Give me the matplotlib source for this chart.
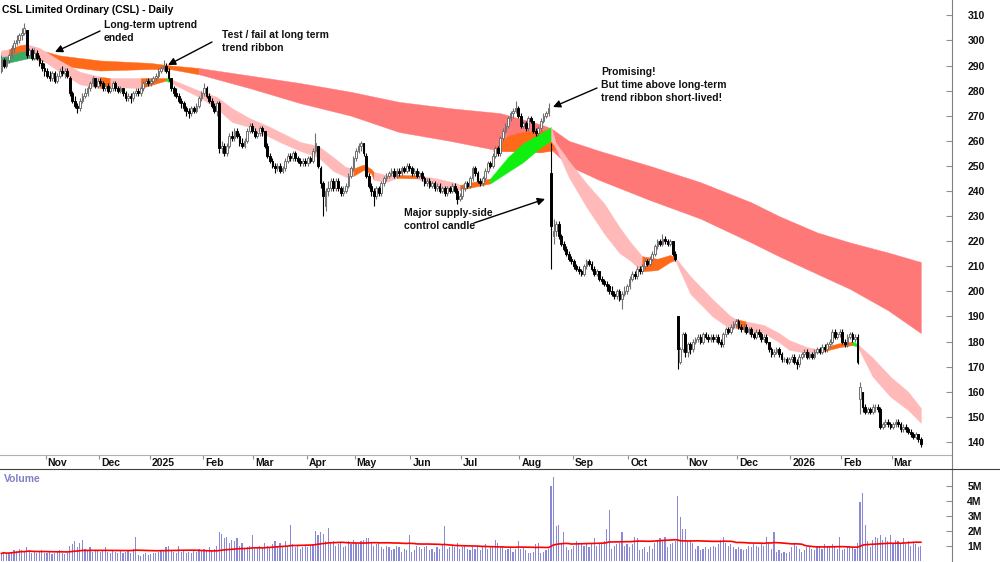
import numpy as np
import pandas as pd
import matplotlib
matplotlib.use("Agg")
import matplotlib.pyplot as plt
from matplotlib.lines import Line2D
from matplotlib.transforms import ScaledTranslation

plt.rcParams['font.family'] = ['Liberation Sans', 'DejaVu Sans']
plt.rcParams['font.weight'] = 'bold'

# ASX trading days shown on the chart
holidays = ["2024-12-25", "2024-12-26", "2025-01-01", "2025-01-27", "2025-04-18",
            "2025-04-21", "2025-04-25", "2025-06-09", "2025-12-25", "2025-12-26",
            "2026-01-01", "2026-01-26"]
first_day = "2024-10-08"
last_day = "2026-03-17"

# daily candles (open, high, low, close), one list per month
oct24 = [(288, 294, 287, 292), (292, 293, 289, 290), (290, 293, 289, 292), (292, 295, 291, 294),
         (294, 298, 293, 297), (297, 300, 295, 299), (299, 302, 298, 300), (300, 303, 299, 302),
         (302, 305, 300, 303), (303, 307, 302, 305), (304, 304, 293, 294), (294, 297, 293, 296),
         (296, 297, 292, 293), (293, 297, 292, 295), (295, 296, 292, 293), (293, 294, 290, 291),
         (291, 292, 288, 289), (289, 291, 286, 288)]
nov24 = [(288, 289, 285, 286), (286, 288, 284, 285), (285, 288, 284, 287), (287, 288, 283, 284),
         (284, 287, 283, 286), (286, 289, 285, 288), (288, 290, 286, 287), (287, 289, 285, 288),
         (288, 289, 285, 286), (285, 286, 278, 279), (279, 280, 275, 276), (276, 278, 273, 274),
         (274, 275, 271, 273), (273, 277, 272, 276), (276, 279, 275, 278), (278, 281, 277, 279),
         (279, 282, 278, 281), (281, 284, 280, 283), (283, 286, 282, 285), (285, 285, 281, 282),
         (282, 285, 281, 284)]
dec24 = [(284, 285, 282, 283), (283, 284, 280, 281), (281, 283, 280, 282), (282, 283, 279, 280),
         (280, 282, 279, 281), (281, 284, 280, 283), (283, 284, 280, 281), (281, 282, 279, 280),
         (280, 282, 279, 281), (281, 281, 278, 279), (279, 280, 276, 277), (277, 279, 276, 278),
         (278, 279, 275, 277), (277, 280, 276, 279), (279, 281, 278, 280), (280, 281, 278, 279),
         (279, 282, 278, 281), (281, 284, 280, 283), (283, 285, 282, 284), (284, 285, 282, 283)]
jan25 = [(283, 285, 282, 284), (284, 286, 283, 285), (285, 287, 284, 286), (286, 289, 285, 288),
         (288, 290, 287, 289), (289, 292, 288, 290), (290, 291, 287, 288), (288, 289, 284, 285),
         (285, 285, 280, 281), (281, 282, 278, 279), (279, 281, 277, 278), (278, 279, 275, 276),
         (276, 277, 273, 275), (275, 276, 272, 273), (273, 274, 270, 272), (272, 273, 269, 271),
         (271, 274, 270, 273), (273, 274, 271, 272), (272, 275, 271, 274), (274, 278, 273, 277),
         (277, 280, 276, 279)]
feb25 = [(279, 283, 278, 281), (281, 282, 277, 278), (278, 279, 275, 276), (276, 277, 273, 274),
         (274, 275, 271, 272), (272, 276, 270, 275), (275, 276, 255, 257), (257, 260, 255, 258),
         (258, 259, 254, 255), (255, 259, 254, 258), (258, 263, 257, 262), (262, 264, 260, 261),
         (261, 265, 260, 264), (264, 265, 261, 262), (262, 263, 258, 259), (259, 261, 257, 258),
         (258, 261, 257, 260), (260, 265, 259, 264), (264, 267, 263, 266), (266, 267, 263, 264)]
mar25 = [(264, 265, 261, 262), (262, 264, 261, 263), (263, 266, 262, 265), (265, 266, 262, 264),
         (264, 264, 257, 258), (258, 259, 253, 254), (254, 255, 251, 252), (252, 253, 249, 250),
         (250, 251, 247, 249), (249, 251, 248, 250), (250, 251, 247, 248), (248, 250, 247, 249),
         (249, 253, 248, 252), (252, 255, 251, 254), (254, 255, 252, 253), (253, 256, 252, 255),
         (255, 256, 252, 253), (253, 254, 251, 252), (252, 253, 250, 251), (251, 253, 250, 252),
         (252, 253, 250, 251)]
apr25 = [(251, 254, 250, 253), (253, 254, 251, 252), (252, 257, 251, 256), (256, 263, 255, 259),
         (258, 258, 249, 250), (249, 250, 241, 243), (243, 244, 230, 238), (234, 241, 232, 240),
         (240, 244, 238, 241), (241, 245, 240, 244), (244, 245, 240, 241), (241, 245, 240, 244),
         (244, 245, 240, 241), (241, 242, 238, 239), (239, 242, 238, 240), (240, 243, 239, 242),
         (242, 247, 241, 246), (246, 250, 245, 249), (249, 254, 248, 253)]
may25 = [(253, 257, 252, 256), (256, 259, 255, 258), (258, 260, 256, 259), (259, 259, 254, 255),
         (254, 255, 245, 246), (246, 247, 241, 242), (242, 243, 238, 240), (240, 241, 234, 238),
         (238, 242, 237, 241), (241, 242, 238, 239), (239, 244, 238, 243), (243, 246, 242, 245),
         (245, 247, 244, 246), (246, 248, 245, 247), (247, 249, 246, 248), (248, 249, 245, 246),
         (246, 249, 245, 248), (248, 249, 246, 247), (247, 250, 246, 249), (249, 250, 247, 248),
         (248, 251, 247, 250), (250, 251, 248, 249)]
jun25 = [(249, 250, 246, 247), (247, 249, 246, 248), (248, 249, 245, 246), (246, 248, 245, 247),
         (247, 248, 244, 245), (245, 246, 242, 243), (243, 245, 242, 244), (244, 245, 241, 242),
         (242, 244, 241, 243), (243, 244, 240, 241), (241, 243, 240, 242), (242, 243, 239, 240),
         (240, 242, 239, 241), (241, 242, 238, 239), (239, 242, 238, 241), (241, 242, 239, 240),
         (240, 243, 239, 242), (242, 243, 239, 240), (240, 241, 235, 237), (237, 239, 236, 238)]
jul25 = [(238, 242, 237, 241), (241, 244, 240, 243), (243, 244, 241, 242), (242, 246, 241, 245),
         (245, 250, 244, 249), (249, 250, 246, 247), (247, 248, 243, 244), (244, 245, 242, 243),
         (243, 246, 242, 245), (245, 249, 244, 248), (248, 252, 247, 251), (251, 252, 249, 250),
         (250, 255, 249, 254), (254, 258, 253, 257), (257, 258, 254, 255), (255, 262, 254, 261),
         (261, 265, 260, 264), (264, 267, 263, 266), (266, 270, 265, 269), (269, 272, 268, 271),
         (271, 273, 269, 272), (272, 276, 271, 273), (273, 274, 269, 270)]
aug25 = [(270, 271, 265, 266), (266, 268, 265, 267), (267, 268, 264, 265), (265, 270, 264, 269),
         (269, 270, 267, 268), (268, 268, 263, 264), (264, 265, 262, 263), (263, 266, 262, 265),
         (265, 269, 264, 268), (268, 271, 267, 270), (270, 272, 269, 271), (271, 275, 270, 273),
         (247, 259, 209, 226), (222, 229, 219, 224), (224, 228, 222, 227), (227, 228, 221, 222),
         (222, 223, 218, 219), (219, 220, 216, 217), (217, 218, 214, 215), (215, 216, 212, 213),
         (213, 214, 211, 212)]
sep25 = [(212, 213, 209, 210), (210, 211, 208, 209), (209, 210, 207, 208), (208, 209, 206, 207),
         (207, 211, 206, 210), (210, 213, 209, 212), (212, 213, 210, 211), (211, 212, 208, 209),
         (209, 210, 206, 207), (207, 209, 206, 208), (208, 208, 204, 205), (205, 206, 203, 204),
         (204, 205, 202, 203), (203, 204, 200, 202), (202, 203, 199, 200), (200, 202, 198, 199),
         (199, 200, 197, 198), (198, 201, 197, 200), (200, 201, 196, 197), (197, 200, 193, 199),
         (199, 202, 198, 200), (200, 203, 199, 202)]
oct25 = [(202, 206, 201, 205), (205, 208, 204, 207), (207, 208, 205, 206), (206, 210, 205, 209),
         (209, 210, 207, 208), (208, 211, 207, 210), (210, 213, 209, 212), (212, 213, 210, 211),
         (211, 214, 210, 213), (213, 216, 212, 215), (215, 219, 214, 218), (218, 221, 217, 220),
         (220, 221, 218, 219), (219, 223, 218, 221), (221, 222, 219, 220), (220, 221, 218, 219),
         (219, 221, 218, 220), (220, 220, 214, 215), (215, 216, 212, 213), (190, 190, 169, 177),
         (172, 178, 171, 177), (177, 184, 176, 183), (183, 184, 174, 176)]
nov25 = [(176, 180, 174, 179), (179, 180, 175, 177), (177, 181, 176, 180), (180, 182, 179, 181),
         (181, 183, 180, 182), (182, 183, 179, 180), (180, 184, 179, 183), (183, 184, 181, 182),
         (182, 183, 180, 181), (181, 183, 180, 182), (182, 183, 180, 181), (181, 183, 180, 182),
         (182, 183, 179, 180), (180, 181, 178, 179), (179, 184, 178, 183), (183, 186, 182, 185),
         (185, 186, 183, 184), (184, 187, 183, 186), (186, 188, 185, 187), (187, 189, 186, 188)]
dec25 = [(188, 189, 185, 186), (186, 187, 184, 185), (185, 187, 184, 186), (186, 187, 183, 184),
         (184, 186, 183, 185), (185, 186, 182, 183), (183, 184, 181, 182), (182, 185, 181, 184),
         (184, 185, 182, 183), (183, 184, 180, 181), (181, 183, 180, 182), (182, 183, 179, 180),
         (180, 180, 176, 177), (177, 178, 174, 175), (175, 177, 174, 176), (176, 178, 175, 177),
         (177, 178, 174, 175), (175, 176, 172, 173), (173, 174, 172, 173), (173, 174, 171, 172),
         (172, 174, 171, 173)]
jan26 = [(173, 175, 172, 174), (174, 175, 171, 172), (172, 173, 169, 171), (171, 175, 170, 174),
         (174, 176, 173, 175), (175, 177, 174, 176), (176, 177, 173, 174), (174, 176, 173, 175),
         (175, 176, 173, 174), (174, 177, 173, 176), (176, 178, 175, 177), (177, 178, 175, 176),
         (176, 179, 175, 178), (178, 179, 176, 177), (177, 180, 176, 179), (179, 181, 178, 180),
         (180, 185, 179, 184), (184, 185, 181, 182), (182, 184, 181, 183), (183, 185, 182, 184)]
feb26 = [(184, 185, 179, 180), (180, 181, 178, 179), (179, 183, 178, 182), (182, 184, 181, 183),
         (183, 184, 180, 181), (181, 183, 180, 182), (182, 183, 171, 172), (157, 164, 151, 162),
         (160, 160, 152, 154), (154, 155, 151, 152), (152, 154, 151, 153), (153, 154, 151, 152),
         (152, 155, 151, 154), (154, 155, 152, 154), (154, 155, 152, 153), (153, 154, 145, 146),
         (146, 148, 145, 147), (147, 149, 146, 148), (148, 149, 146, 147), (147, 148, 145, 146)]
mar26 = [(146, 148, 145, 147), (147, 149, 146, 148), (148, 149, 146, 147), (147, 148, 144, 145),
         (145, 147, 144, 146), (146, 147, 144, 145), (145, 146, 143, 144), (144, 145, 142, 143),
         (143, 144, 141, 142), (142, 144, 141, 143), (143, 143, 140, 141), (141, 142, 138, 139)]

# daily volume, millions of shares
vol_oct24 = [0.5, 0.6, 0.45, 0.55, 0.6, 0.7, 0.65, 0.8, 0.75, 0.6, 0.9, 0.7, 0.55, 0.6, 0.5, 0.65, 0.7, 0.5]
vol_nov24 = [0.55, 0.6, 0.45, 0.5, 0.6, 0.7, 0.5, 0.45, 0.55, 1.0, 1.1, 1.3, 0.9, 1.2, 1.4, 0.8, 0.7, 0.9,
             0.6, 0.75, 0.7]
vol_dec24 = [0.6, 0.7, 0.9, 0.6, 0.55, 0.75, 0.6, 0.55, 0.65, 0.5, 0.6, 0.7, 0.55, 0.8, 1.6, 0.4, 0.35,
             0.45, 0.5, 0.4]
vol_jan25 = [0.45, 0.5, 0.55, 0.6, 0.7, 0.65, 0.9, 1.0, 0.7, 0.6, 0.55, 1.0, 0.6, 0.7, 0.5, 0.6, 0.55,
             0.7, 0.6, 0.8, 0.65]
vol_feb25 = [0.8, 0.7, 0.9, 0.75, 0.8, 1.0, 1.9, 1.8, 1.5, 1.6, 1.2, 1.4, 1.3, 1.5, 1.0, 1.2, 0.8, 0.9,
             1.0, 1.7]
vol_mar25 = [0.8, 0.9, 1.0, 0.85, 1.2, 1.0, 0.9, 1.1, 1.3, 1.0, 1.2, 0.9, 1.3, 1.0, 2.4, 1.1, 0.9, 1.0,
             0.8, 0.9, 1.0]
vol_apr25 = [0.9, 1.0, 1.1, 2.0, 1.7, 1.9, 1.8, 1.3, 2.2, 1.2, 1.3, 1.0, 1.1, 1.2, 0.9, 1.0, 1.3, 1.1, 1.4]
vol_may25 = [1.2, 1.1, 1.3, 1.4, 1.5, 1.5, 1.2, 1.0, 1.1, 1.2, 0.9, 0.8, 1.0, 0.9, 0.7, 0.8, 1.0, 0.9,
             0.6, 0.8, 0.7, 1.7]
vol_jun25 = [0.6, 0.7, 1.0, 0.9, 0.8, 0.9, 1.0, 0.7, 0.8, 0.6, 0.9, 0.8, 1.1, 2.3, 0.8, 0.9, 1.0, 0.9,
             1.2, 0.8]
vol_jul25 = [0.9, 1.0, 0.8, 0.7, 0.9, 0.8, 1.0, 0.7, 0.9, 1.1, 0.8, 0.9, 1.0, 1.4, 1.2, 0.9, 1.0, 0.7,
             0.8, 0.9, 0.6, 0.8, 1.3]
vol_aug25 = [0.8, 0.9, 0.7, 0.5, 0.55, 0.6, 1.1, 1.2, 0.5, 0.6, 0.7, 0.8, 5.0, 5.6, 2.3, 2.4, 1.2, 1.9,
             0.9, 0.7, 0.8]
vol_sep25 = [1.0, 1.3, 1.2, 1.1, 1.0, 1.2, 0.9, 1.1, 1.5, 1.0, 1.2, 1.1, 1.3, 2.1, 3.4, 0.8, 1.0, 1.1,
             1.2, 1.9, 1.0, 1.1]
vol_oct25 = [0.9, 1.1, 1.6, 1.5, 0.7, 0.8, 0.9, 0.6, 1.0, 0.8, 1.2, 1.4, 1.5, 1.3, 1.6, 0.9, 1.1, 1.2,
             1.3, 4.3, 2.9, 2.1, 2.1]
vol_nov25 = [1.3, 1.4, 1.2, 0.8, 1.0, 0.7, 0.8, 0.9, 0.8, 0.9, 1.0, 0.9, 1.1, 1.4, 1.6, 1.2, 1.0, 1.1,
             0.9, 0.8]
vol_dec25 = [0.9, 0.8, 0.7, 0.8, 1.0, 0.9, 1.1, 1.0, 0.9, 1.2, 1.0, 1.6, 1.2, 0.8, 1.9, 0.6, 0.7, 0.5,
             0.6, 0.5, 0.6]
vol_jan26 = [0.9, 1.1, 1.0, 0.8, 0.6, 0.7, 0.9, 1.0, 0.8, 0.7, 0.9, 1.0, 0.8, 1.1, 0.9, 1.0, 1.1, 1.0,
             0.8, 1.6]
vol_feb26 = [0.7, 0.8, 0.9, 1.0, 0.9, 0.8, 1.2, 3.9, 4.5, 2.4, 1.3, 0.9, 1.4, 1.6, 1.5, 1.7, 1.4, 1.6,
             1.3, 1.7]
vol_mar26 = [1.2, 1.4, 1.3, 1.2, 1.5, 1.1, 1.3, 1.0, 1.2, 1.1, 0.9, 1.0]

# short-term trend ribbon: day index, upper edge, lower edge, state (d=down, n=neutral, u=up)
st_day = [0, 3, 7, 10, 15, 23, 31, 39, 43, 55, 65, 67, 78, 85, 91, 98, 105, 111, 118, 125, 131,
          136, 139, 143, 146, 147, 152, 156, 164, 172, 180, 181, 190, 193, 200, 206, 213, 217, 219,
          224, 231, 238, 244, 248, 253, 259, 264, 266, 272, 281, 288, 290, 294, 301, 307, 311, 318,
          322, 331, 336, 338, 344, 351, 358, 363]
st_top = [296, 296.5, 298, 298.5, 297, 292, 287.5, 285.5, 285, 285, 285, 284.5, 280, 277.5, 273,
          269, 266, 263, 259.5, 258, 253.5, 249.5, 249, 250.5, 248.8, 247.6, 246.4, 246.4, 246.2,
          245, 243, 242.4, 244.4, 245, 253.5, 259, 263, 265.5, 259, 252, 243, 235, 225.6, 220,
          214, 213, 214.5, 213.5, 206, 196.6, 190, 189, 188, 186.6, 183.4, 180.6, 177.8, 177,
          179.4, 180, 179, 173.5, 166, 160, 153.5]
st_bot = [293.5, 294, 295.5, 296, 293, 287.5, 282.5, 281, 281.5, 281, 284, 283, 277.5, 273, 267.5,
          265.5, 262, 259, 256, 253.5, 248, 245.6, 246, 248.4, 247, 244.4, 243.6, 245.2, 245,
          241.5, 240.5, 240.4, 242.4, 243, 247.6, 251.5, 257.5, 260, 257, 245.6, 233.6, 223,
          215.3, 212.5, 208, 208.5, 211.7, 212.5, 199, 189.8, 185, 185.5, 184.5, 183.4, 179.8,
          176.7, 175.5, 175.5, 177.8, 178.6, 178, 166, 158, 152.7, 147.6]
st_state = ["d", "n", "n", "d", "d", "d", "d", "n", "d", "n", "u", "d", "d", "d", "d", "d", "d",
            "d", "d", "d", "d", "d", "n", "n", "n", "d", "d", "n", "d", "d", "d", "n", "n", "u",
            "u", "u", "u", "d", "d", "d", "d", "d", "d", "d", "n", "n", "n", "d", "d", "d", "d",
            "n", "d", "d", "d", "d", "d", "n", "n", "u", "d", "d", "d", "d", "d"]

# long-term trend ribbon
lt_day = [0, 11, 14, 23, 39, 59, 67, 78, 98, 118, 138, 157, 177, 197, 213, 217, 224, 236, 256,
          276, 296, 307, 322, 335, 350, 363]
lt_top = [295.5, 297, 296.5, 294, 292, 291, 290, 289, 286, 283, 279.5, 275.5, 273, 271, 266.5,
          265, 260, 256, 250, 243.5, 235.5, 230, 223.5, 219.5, 215.5, 211.7]
lt_bot = [290.5, 293, 292.5, 290, 288, 288.6, 288.5, 286.5, 281, 275, 270, 263.5, 260, 256,
          255.5, 256.5, 250, 244.4, 236.4, 229, 219.5, 214, 207, 201, 192.5, 183.4]
lt_state = ["u", "u", "n", "n", "n", "n", "n", "d", "d", "d", "d", "d", "d", "d", "d", "d", "d",
            "d", "d", "d", "d", "d", "d", "d", "d", "d"]

# lower part of the long-term ribbon that turned neutral in Jul/Aug 2025
lt_turn_day = [194, 200, 206, 213, 217, 219]
lt_turn_top = [256, 262, 263.5, 264, 264.5, 260]
lt_turn_bot = [256, 256, 255.8, 255.5, 256, 257]

ribbon_colors = {
    "st": {"d": "#ffb9b9", "n": "#ff6a1a", "u": "#10f010"},
    "lt": {"d": "#ff7878", "n": "#ff6a1a", "u": "#3aaa68"},
}

# ------------------------------------------------------------------
days = pd.bdate_range(first_day, last_day)
days = days[~days.isin(pd.to_datetime(holidays))]

ohlc = np.array(oct24 + nov24 + dec24 + jan25 + feb25 + mar25 + apr25 + may25 + jun25 + jul25 +
                aug25 + sep25 + oct25 + nov25 + dec25 + jan26 + feb26 + mar26, dtype=float)
vol = np.array(vol_oct24 + vol_nov24 + vol_dec24 + vol_jan25 + vol_feb25 + vol_mar25 + vol_apr25 +
               vol_may25 + vol_jun25 + vol_jul25 + vol_aug25 + vol_sep25 + vol_oct25 + vol_nov25 +
               vol_dec25 + vol_jan26 + vol_feb26 + vol_mar26)
o, h, l, c = ohlc.T
x = np.arange(len(ohlc))
vol_ma = pd.Series(vol).rolling(50, min_periods=1).mean()

W, H = 1000, 562
fig = plt.figure(figsize=(W / 100, H / 100), dpi=100)
ax = fig.add_axes([0, 1 - 455 / H, 952 / W, 455 / H])
axv = fig.add_axes([0, 0, 952 / W, 93 / H])


def draw_ribbon(axis, xs, top, bot, states, cols, z):
    start = 0
    for i in range(1, len(xs)):
        if states[i] != states[start] or i == len(xs) - 1:
            axis.fill_between(xs[start:i + 1], top[start:i + 1], bot[start:i + 1],
                              color=cols[states[start]], lw=0.3, zorder=z)
            start = i


draw_ribbon(ax, lt_day, lt_top, lt_bot, lt_state, ribbon_colors["lt"], 1)
ax.fill_between(lt_turn_day, lt_turn_top, lt_turn_bot, color=ribbon_colors["lt"]["n"], lw=0.3, zorder=1.5)
draw_ribbon(ax, st_day, st_top, st_bot, st_state, ribbon_colors["st"], 2)

# candles
up = c >= o
ax.vlines(x[up], l[up], h[up], color="#707070", lw=0.8, zorder=3)
ax.vlines(x[~up], l[~up], h[~up], color="black", lw=0.8, zorder=3)
ax.bar(x[up], (c - o)[up], bottom=o[up], width=0.7, color="white", edgecolor="#707070",
       lw=0.7, zorder=4)
ax.bar(x[~up], (o - c)[~up], bottom=c[~up], width=0.7, color="black", edgecolor="black",
       lw=0.7, zorder=4)

ax.set_xlim(-0.55, 375.3)
ax.set_ylim(134.8, 316.1)

# month ticks
starts = [i for i in range(1, len(days)) if days[i].month != days[i - 1].month]
labels = [str(days[i].year) if days[i].month == 1 else days[i].strftime("%b") for i in starts]
ax.set_xticks([s - 0.5 for s in starts])
ax.set_xticklabels(labels, ha="left")
ax.tick_params(axis="x", direction="out", length=3, width=0.8, color="#909090",
               labelsize=7.5, pad=-1, labelcolor="#111111")
shift = ScaledTranslation(2 / 100, 0, fig.dpi_scale_trans)
for lbl in ax.get_xticklabels():
    lbl.set_transform(lbl.get_transform() + shift)

ax.yaxis.tick_right()
ax.set_yticks(np.arange(140, 311, 10))
ax.tick_params(axis="y", direction="in", length=4, width=0.8, color="#909090",
               labelsize=7.5, pad=11, labelcolor="#111111")
for s in ["top", "left", "right"]:
    ax.spines[s].set_visible(False)
ax.spines["bottom"].set_color("#b0b0b0")

# volume pane
axv.bar(x, vol, width=0.45, color="#8a8ad4", zorder=2)
axv.plot(x, vol_ma, color="#ff0000", lw=1.2, zorder=3)
axv.set_xlim(-0.55, 375.3)
axv.set_ylim(-0.07, 6.13)
axv.yaxis.tick_right()
axv.set_yticks([1, 2, 3, 4, 5])
axv.set_yticklabels(["1M", "2M", "3M", "4M", "5M"])
axv.tick_params(axis="y", direction="in", length=4, width=0.8, color="#909090",
                labelsize=7.5, pad=11, labelcolor="#111111")
axv.tick_params(axis="x", bottom=False, labelbottom=False)
for s in axv.spines.values():
    s.set_visible(False)

fig.add_artist(Line2D([952 / W, 952 / W], [0, 1], color="#808080", lw=0.8))
fig.add_artist(Line2D([0, 1], [1 - 469 / H, 1 - 469 / H], color="#404040", lw=0.8))

fig.text(4 / W, 1 - 479 / H, "Volume", color="#8080c8", fontsize=7.5, va="center")
fig.text(2 / W, 1 - 5 / H, "CSL Limited Ordinary (CSL) - Daily", fontsize=7.5, va="top")

# annotations (positions in figure pixels, measured from the top)
notes = [
    ("Long-term uptrend\nended", (104, 20), (100, 31), (55, 52)),
    ("Test / fail at long term\ntrend ribbon", (222, 30), (212, 42), (168, 65)),
    ("Promising!\nBut time above long-term\ntrend ribbon short-lived!", (601, 67), (597, 88), (553, 107)),
    ("Major supply-side\ncontrol candle", (404, 208), (474, 223), (545, 199)),
]
for text, (tx, ty), (ax0, ay0), (hx, hy) in notes:
    fig.text(tx / W, 1 - ty / H, text, fontsize=7.5, va="top", ha="left", color="#111111",
             linespacing=1.4)
    ax.annotate("", xy=(hx, H - hy), xycoords="figure pixels",
                xytext=(ax0, H - ay0), textcoords="figure pixels",
                arrowprops=dict(arrowstyle="-|>", color="black", lw=1.0,
                                mutation_scale=11, shrinkA=0, shrinkB=0))

fig.savefig("out.png", dpi=100)
